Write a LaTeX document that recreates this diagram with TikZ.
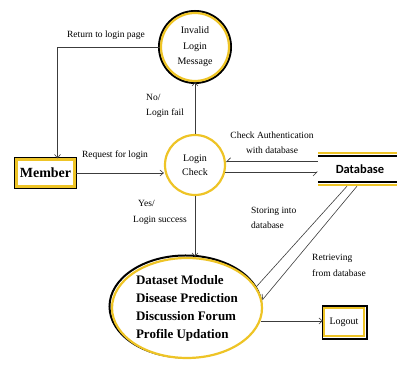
\documentclass[tikz,border=0pt]{standalone}
\usepackage{fontspec}
\setmainfont{Liberation Serif}
\newfontfamily\dbfont{Carlito}
\usetikzlibrary{arrows.meta,shapes.geometric,backgrounds,positioning}
\definecolor{dfyellow}{RGB}{238,196,38}
\definecolor{dfline}{RGB}{60,60,60}

\begin{document}
\begin{tikzpicture}[x=1pt,y=1pt,
    flow/.style={draw=dfline, line width=0.6pt, -{Straight Barb[length=3.5pt,width=6pt]}},
    halfflow/.style={draw=dfline, line width=0.6pt, -{Straight Barb[length=4pt,width=8pt,harpoon,swap]}},
    plain/.style={draw=dfline, line width=0.6pt},
    lbl/.style={font=\fontsize{9.5}{15.5}\selectfont, inner sep=0pt, align=left},
    proc/.style={circle, draw=dfyellow, line width=2.2pt, fill=white, align=center, inner sep=0pt},
    entity/.style={rectangle, draw=dfyellow, line width=2.2pt, fill=white, inner sep=2pt}]

    \useasboundingbox (0,0) rectangle (397,366);

    % Processes
    \node[proc, minimum size=68pt, font=\fontsize{10}{15.5}\selectfont] (invalid) at (195,319) {Invalid\\Login\\Message};
    \node[proc, minimum size=60pt, font=\fontsize{10}{14}\selectfont] (login) at (195,201) {Login\\Check};
    \node[proc, ellipse, minimum width=150pt, minimum height=100pt, align=left,
          font=\bfseries\fontsize{13}{18}\selectfont] (mod) at (187,58)
          {Dataset Module\\Disease Prediction\\Discussion Forum\\Profile Updation};

    % Entities
    \node[entity, minimum width=58pt, minimum height=27pt, font=\bfseries\fontsize{14}{16}\selectfont] (member) at (45.5,193) {Member};
    \node[entity, minimum width=40pt, minimum height=28pt, font=\fontsize{10}{12}\selectfont] (logout) at (344,44) {Logout};

    % Data store
    \node[minimum width=84pt, minimum height=26pt, inner sep=0pt,
          font=\dbfont\bfseries\fontsize{12.5}{14}\selectfont] (db) at (360,197) {Database};
    \foreach \a/\b/\s in {north west/north east/1, south west/south east/-1} {
        \draw[line width=1.6pt] (db.\a) -- (db.\b);
        \draw[dfyellow, line width=2.2pt] ([yshift=\s*2.6pt]db.\a) -- ([yshift=\s*2.6pt]db.\b);
    }

    % Black outlines
    \begin{scope}[on background layer]
        \draw[line width=2pt] (invalid) circle (36pt);
        \draw[line width=2pt] ([shift={(-1.5pt,1.5pt)}]mod.center) ellipse (76pt and 51pt);
        \draw[line width=1.8pt] ([shift={(-0.9pt,-0.9pt)}]member.south west) rectangle ([shift={(0.9pt,0.9pt)}]member.north east);
        \draw[line width=1.8pt] ([shift={(-0.5pt,-2pt)}]logout.south west) rectangle ([shift={(2pt,0.5pt)}]logout.north east);
    \end{scope}

    % Data flows
    \draw[flow] (member.east) -- (member.east -| login.west);
    \draw[flow] (invalid.west) -| ([xshift=12pt]member.north);
    \draw[flow] (login) -- (invalid);
    \draw[flow] (login.south) -- (login.south |- mod.north);
    \draw[halfflow] (login.6 -| db.west) -- (login.6);
    \draw[halfflow] (login.-13) -- (login.-13 -| db.west);
    \draw[plain] ([xshift=-13pt,yshift=-4pt]db.south) -- (mod.17);
    \draw[halfflow] ([xshift=-3pt,yshift=-4pt]db.south) -- (mod.6);
    \draw[flow] (mod.-10) -- (mod.-10 -| logout.west);

    % Flow labels
    \node[lbl] (lreturn) at (106,331) {Return to login page};
    \node[lbl] (lreq) at (115,211) {Request for login};
    \node[lbl, anchor=west] (lfail) at (146,260) {No/\\Login fail};
    \node[lbl, anchor=west] (lyes) at (133,153.5) {\hspace*{5pt}Yes/\\Login success};
    \node[lbl, align=center] (lcheck) at (272,223) {Check Authentication\\with database};
    \node[lbl, anchor=west] (lstore) at (251,148) {Storing into\\database};
    \node[lbl, anchor=west] (lretr) at (312,100.5) {Retrieving\\from database};
\end{tikzpicture}
\end{document}
